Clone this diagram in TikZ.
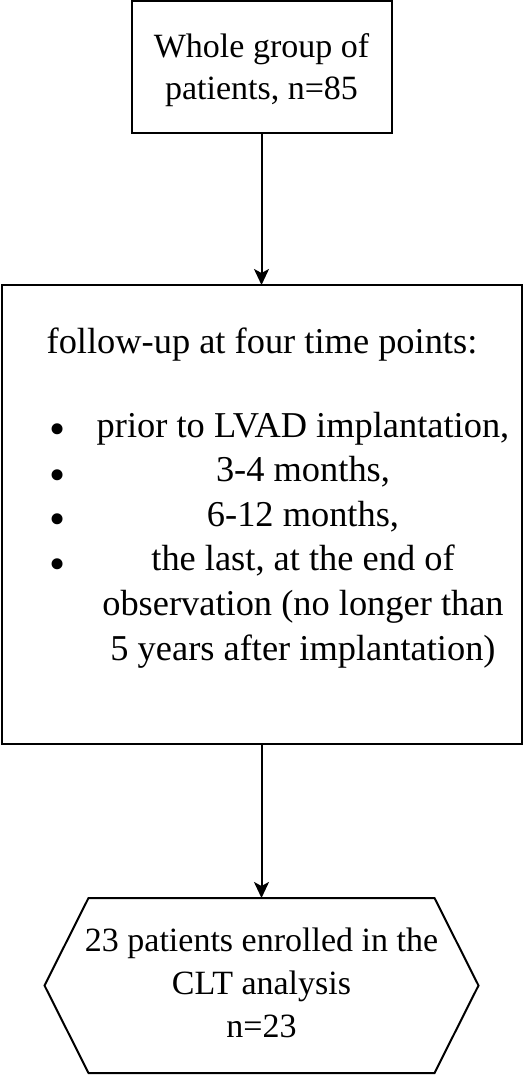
\documentclass[tikz,border=0pt]{standalone}
\usepackage{fontspec}
\setmainfont{Liberation Serif}
\usetikzlibrary{arrows.meta}

\begin{document}
\begin{tikzpicture}[x=0.5pt,y=-0.5pt,line width=1pt,
  txt/.style={font=\fontsize{18.2}{22.3}\selectfont,inner sep=0pt,align=center},
  smalltxt/.style={font=\fontsize{17}{21.3}\selectfont,inner sep=0pt,align=center},
  bullet/.style={font=\fontsize{23}{23}\selectfont,inner sep=0pt},
  box/.style={rectangle,draw,inner sep=0pt,outer sep=0pt}]
\useasboundingbox (0,0) rectangle (528,1075);
\coordinate (A) at (261.5,67);
\coordinate (B) at (261.5,514.5);
\coordinate (C) at (261.5,985.5);
\coordinate (D) at (262,353);
\coordinate (E) at (303,660);

\node[box,minimum width=130pt,minimum height=66pt] (A1) at (A) {};
\node[smalltxt,anchor=base] (A2) at (261.5,100) {Whole group of\\patients, n=85};
\node[box,minimum width=260pt,minimum height=229.5pt] (B1) at (B) {};
\node[txt,anchor=base] (D1) at (D) {follow-up at four time points:};
\node[txt,anchor=base] (E1) at (E) {prior to LVAD implantation,\\3-4 months,\\6-12 months,\\the last, at the end of\\observation (no longer than\\5 years after implantation)};
\foreach \y [count=\i] in {434,480,524,569}
  \node[bullet] (bul\i) at (58,\y) {\textbullet};
\node[inner sep=0pt,outer sep=0pt,minimum width=173pt,minimum height=87.5pt] (C1) at (C) {};
\node[smalltxt,anchor=base] (C2) at (261.5,1037) {23 patients enrolled in the\\CLT analysis\\n=23};
\draw (C1.north west) -- (C1.north east) -- ([xshift=22pt]C1.east) -- (C1.south east)
  -- (C1.south west) -- ([xshift=-22pt]C1.west) -- cycle;

\draw[-{Stealth[length=8pt,width=7.5pt,inset=2pt]}] (A1) -- (B1);
\draw[-{Stealth[length=8pt,width=7.5pt,inset=2pt]}] (B1) -- (C1);

\end{tikzpicture}
\end{document}
